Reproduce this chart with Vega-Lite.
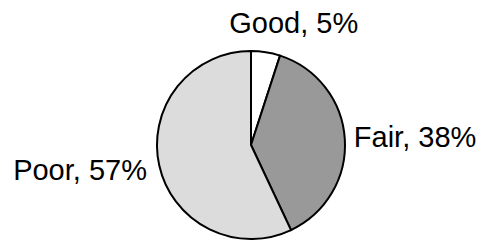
{
  "$schema": "https://vega.github.io/schema/vega-lite/v6.json",
  "width": 460,
  "height": 194,
  "autosize": {"type": "none"},
  "padding": {"left": 21, "top": 48, "right": 0, "bottom": 0},
  "background": "white",
  "view": {"stroke": null},
  "data": {"values": [
    {"rating": "Good", "pct": 5, "order": 1, "label": "Good, 5%"},
    {"rating": "Fair", "pct": 38, "order": 2, "label": "Fair, 38%"},
    {"rating": "Poor", "pct": 57, "order": 3, "label": "Poor, 57%"}
  ]},
  "transform": [
    {"stack": "pct", "groupby": [], "sort": [{"field": "order", "order": "ascending"}], "as": ["v0", "v1"]},
    {"calculate": "(datum.v0 + datum.v1) / 2", "as": "mid"}
  ],
  "layer": [
    {
      "mark": {"type": "arc", "outerRadius": 94, "stroke": "black", "strokeWidth": 2, "strokeJoin": "miter"},
      "encoding": {
        "theta": {"field": "v0", "type": "quantitative", "scale": {"domain": [0, 100]}},
        "theta2": {"field": "v1"},
        "color": {"field": "rating", "type": "nominal", "legend": null,
          "scale": {"domain": ["Good", "Fair", "Poor"], "range": ["#ffffff", "#999999", "#dcdcdc"]}}
      }
    },
    {
      "transform": [{"filter": "datum.rating === 'Good'"}],
      "mark": {"type": "text", "radius": 113, "align": "center", "baseline": "alphabetic", "dx": 25, "font": "Liberation Sans", "fontSize": 29, "color": "black"},
      "encoding": {
        "theta": {"field": "mid", "type": "quantitative", "scale": {"domain": [0, 100]}},
        "text": {"field": "label"}
      }
    },
    {
      "transform": [{"filter": "datum.rating === 'Fair'"}],
      "mark": {"type": "text", "radius": 103, "align": "left", "baseline": "alphabetic", "dy": 8.5, "font": "Liberation Sans", "fontSize": 29, "color": "black"},
      "encoding": {
        "theta": {"field": "mid", "type": "quantitative", "scale": {"domain": [0, 100]}},
        "text": {"field": "label"}
      }
    },
    {
      "transform": [{"filter": "datum.rating === 'Poor'"}],
      "mark": {"type": "text", "radius": 106.6, "align": "right", "baseline": "alphabetic", "dy": 12, "font": "Liberation Sans", "fontSize": 29, "color": "black"},
      "encoding": {
        "theta": {"field": "mid", "type": "quantitative", "scale": {"domain": [0, 100]}},
        "text": {"field": "label"}
      }
    }
  ]
}
